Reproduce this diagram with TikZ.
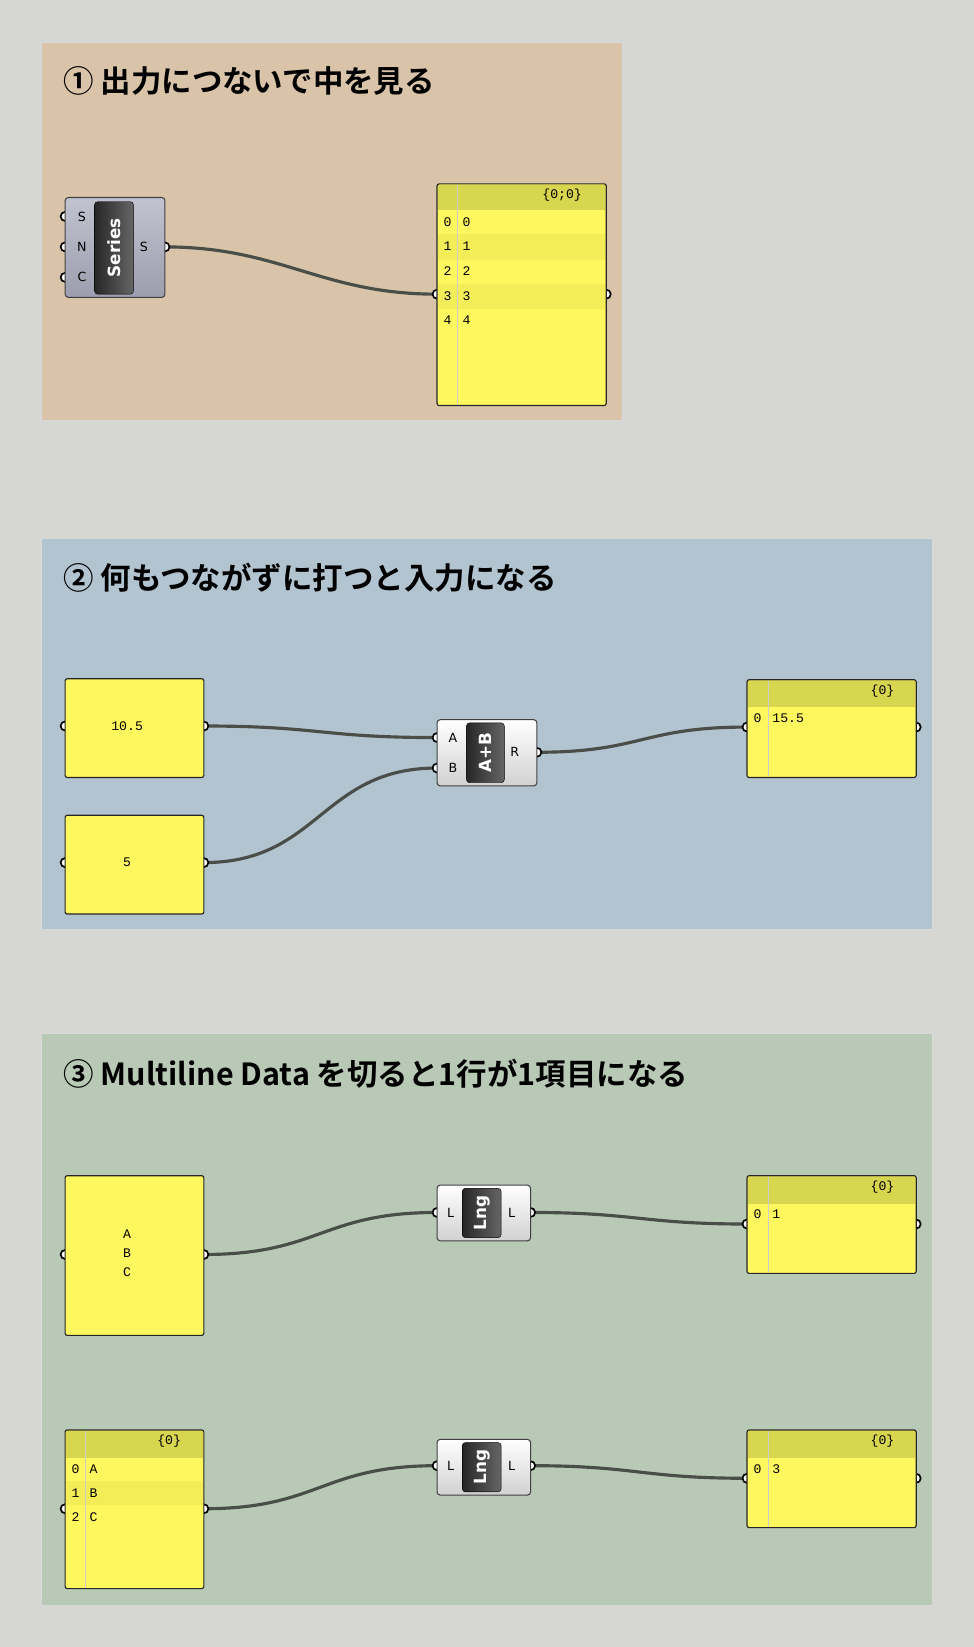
\documentclass[tikz,border=0pt]{standalone}
\usepackage{fontspec}
\newfontfamily\cjk{Noto Sans CJK JP}[BoldFont={Noto Sans CJK JP Bold}]
\setmonofont{Liberation Mono}
\newfontfamily\gh{DejaVu Sans}
\usetikzlibrary{positioning}
\definecolor{canvas}{HTML}{D6D7D2}
\definecolor{grpA}{HTML}{D9C4AA}
\definecolor{grpB}{HTML}{B1C4D0}
\definecolor{grpC}{HTML}{B8C9B6}
\definecolor{pyel}{HTML}{FFF75E}
\definecolor{phdr}{HTML}{D8D54E}
\definecolor{pstr}{HTML}{F3EE58}
\definecolor{wirec}{HTML}{4A4E49}
\definecolor{serTop}{HTML}{C2C3CF}
\definecolor{serBot}{HTML}{9C9DAE}
\tikzset{
  grp/.style={fill=#1,draw=black!15,line width=0.8pt},
  title/.style={anchor=west,font=\cjk\bfseries\fontsize{29}{30}\selectfont,inner sep=0pt},
  ypanel/.style={draw=black!85,line width=1.1pt,fill=pyel,rounded corners=2pt},
  wire/.style={draw=wirec,line width=3pt},
  grip/.style={draw=black,line width=1.6pt,fill=white},
  comp/.style={draw=black!75,line width=1pt,rounded corners=3pt,inner sep=0pt},
  badge/.style={rotate=90,left color=black!85,right color=black!60,draw=black,rounded corners=3pt,text=white,
    font=\gh\bfseries\fontsize{16}{16}\selectfont,inner sep=0pt},
  pin/.style={font=\gh\fontsize{12}{12}\selectfont,inner sep=0pt},
  dat/.style={font=\ttfamily\fontsize{12.5}{13}\selectfont,inner sep=0pt}
}
\begin{document}
\begin{tikzpicture}[x=1pt,y=-1pt]
  \useasboundingbox[fill=canvas] (0,0) rectangle (927,1567.6);
  % groups
  \draw[grp=grpA] (39,40) rectangle (592,400);
  \draw[grp=grpB] (39,512) rectangle (887,885);
  \draw[grp=grpC] (39,984) rectangle (887,1528);
  \node[title] (t1) at (60,77) {① 出力につないで中を見る};
  \node[title] (t2) at (60,550) {② 何もつながずに打つと入力になる};
  \node[title] (t3) at (60,1022) {③ Multiline Data を切ると1行が1項目になる};
  % grips
  \coordinate (serS) at (62,206); \coordinate (serN) at (62,235); \coordinate (serC) at (62,264);
  \coordinate (serO) at (157,235);
  \coordinate (lstAI) at (416,280); \coordinate (lstAO) at (577,280);
  \coordinate (numAI) at (62,691); \coordinate (numAO) at (194,691);
  \coordinate (numBI) at (62,821); \coordinate (numBO) at (194,821);
  \coordinate (addA) at (416,702); \coordinate (addB) at (416,731); \coordinate (addR) at (511,716);
  \coordinate (sumI) at (711,692); \coordinate (sumO) at (872,692);
  \coordinate (txtI) at (62,1194); \coordinate (txtO) at (194,1194);
  \coordinate (lenAI) at (416,1154); \coordinate (lenAO) at (505,1154);
  \coordinate (cntAI) at (711,1165); \coordinate (cntAO) at (872,1165);
  \coordinate (abcI) at (62,1436); \coordinate (abcO) at (194,1436);
  \coordinate (lenBI) at (416,1395); \coordinate (lenBO) at (505,1395);
  \coordinate (cntBI) at (711,1407); \coordinate (cntBO) at (872,1407);
  % wires
  \draw[wire] (serO) .. controls +(110,0) and +(-110,0) .. (lstAI);
  \draw[wire] (numAO) .. controls +(110,0) and +(-110,0) .. (addA);
  \draw[wire] (numBO) .. controls +(110,0) and +(-110,0) .. (addB);
  \draw[wire] (addR) .. controls +(100,0) and +(-100,0) .. (sumI);
  \draw[wire] (txtO) .. controls +(110,0) and +(-110,0) .. (lenAI);
  \draw[wire] (lenAO) .. controls +(100,0) and +(-100,0) .. (cntAI);
  \draw[wire] (abcO) .. controls +(110,0) and +(-110,0) .. (lenBI);
  \draw[wire] (lenBO) .. controls +(100,0) and +(-100,0) .. (cntBI);
  \foreach \g in {serS,serN,serC,serO,lstAI,lstAO,numAI,numAO,numBI,numBO,addA,addB,addR,
      sumI,sumO,txtI,txtO,lenAI,lenAO,cntAI,cntAO,abcI,abcO,lenBI,lenBO,cntBI,cntBO}
    \draw[grip] (\g) circle (4.3);
  % (1) series -> panel
  \node[comp,top color=serTop,bottom color=serBot,minimum width=95pt,minimum height=95pt] (ser) at (109.5,235.5) {};
  \node[badge,minimum width=88pt,minimum height=37pt] (serL) at (108.5,236) {Series};
  \node[pin] at (78,206) {S}; \node[pin] at (78,235) {N}; \node[pin] at (78,264) {C};
  \node[pin] at (137,235) {S};
  \draw[ypanel] (416,175) rectangle (577,386);
  \fill[phdr] (417,176) rectangle (576,200);
  \fill[pstr] (417,223) rectangle (576,247);
  \fill[pstr] (417,270) rectangle (576,294);
  \draw[black!20] (435,176) -- (435,385);
  \node[dat] (lstAH) at (535,186) {\{0;0\}};
  \foreach \i [evaluate=\i as \yy using 211+23.5*\i] in {0,...,4} {
    \node[dat] at (426,\yy) {\i};
    \node[dat,anchor=west] at (440,\yy) {\i};
  }
  % (2) numbers -> A+B -> panel
  \draw[ypanel] (62,646) rectangle (194,740);
  \node[dat] (numA) at (121,691) {10.5};
  \draw[ypanel] (62,776) rectangle (194,870);
  \node[dat] (numB) at (121,821) {5};
  \node[comp,top color=white,bottom color=black!18,minimum width=95pt,minimum height=63pt] (add) at (463.5,716.5) {};
  \node[badge,minimum width=57pt,minimum height=36pt] (addL) at (462,716.5) {A+B};
  \node[pin] at (431,702) {A}; \node[pin] at (431,731) {B}; \node[pin] at (490,716) {R};
  \draw[ypanel] (711,647) rectangle (872,740);
  \fill[phdr] (712,648) rectangle (871,673);
  \draw[black!20] (731,648) -- (731,739);
  \node[dat] (sumH) at (840,658) {\{0\}};
  \node[dat] at (721,684) {0}; \node[dat,anchor=west] at (735,684) {15.5};
  % (3) multiline text -> Lng -> panel
  \draw[ypanel] (62,1119) rectangle (194,1271);
  \node[dat,align=center,font=\ttfamily\fontsize{12.5}{18}\selectfont] (txt) at (121,1193) {A\\B\\C};
  \node[comp,top color=white,bottom color=black!18,minimum width=89pt,minimum height=53pt] (lenA) at (460.5,1154.5) {};
  \node[badge,minimum width=47pt,minimum height=37pt] (lenAL) at (458.5,1154.5) {Lng};
  \node[pin] at (429,1154) {L}; \node[pin] at (487,1154) {L};
  \draw[ypanel] (711,1119) rectangle (872,1212);
  \fill[phdr] (712,1120) rectangle (871,1146);
  \draw[black!20] (731,1120) -- (731,1211);
  \node[dat] (cntAH) at (840,1130) {\{0\}};
  \node[dat] at (721,1156) {0}; \node[dat,anchor=west] at (735,1156) {1};
  % list -> Lng -> panel
  \draw[ypanel] (62,1361) rectangle (194,1512);
  \fill[phdr] (63,1362) rectangle (193,1388);
  \fill[pstr] (63,1410) rectangle (193,1432);
  \draw[black!20] (81,1362) -- (81,1511);
  \node[dat] (abcH) at (161,1372) {\{0\}};
  \foreach \i/\t [evaluate=\i as \yy using 1398+23*\i] in {0/A,1/B,2/C} {
    \node[dat] at (72,\yy) {\i};
    \node[dat,anchor=west] at (85,\yy) {\t};
  }
  \node[comp,top color=white,bottom color=black!18,minimum width=89pt,minimum height=53pt] (lenB) at (460.5,1396.5) {};
  \node[badge,minimum width=47pt,minimum height=37pt] (lenBL) at (458.5,1396.5) {Lng};
  \node[pin] at (429,1395) {L}; \node[pin] at (487,1395) {L};
  \draw[ypanel] (711,1361) rectangle (872,1454);
  \fill[phdr] (712,1362) rectangle (871,1388);
  \draw[black!20] (731,1362) -- (731,1453);
  \node[dat] (cntBH) at (840,1372) {\{0\}};
  \node[dat] at (721,1398) {0}; \node[dat,anchor=west] at (735,1398) {3};
\end{tikzpicture}
\end{document}
